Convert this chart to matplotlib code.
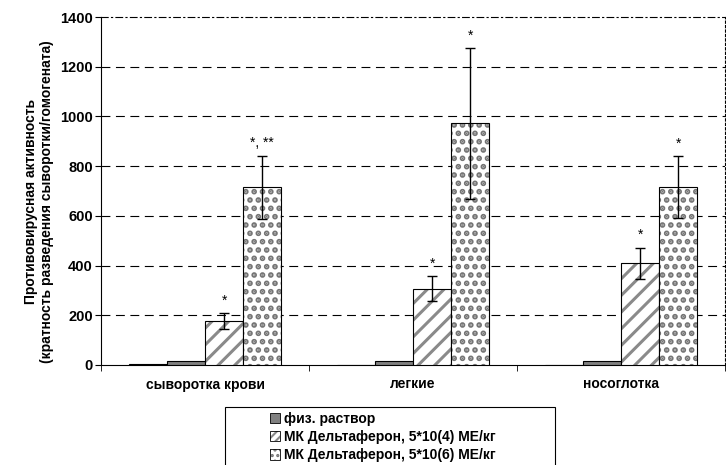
import matplotlib
matplotlib.use("Agg")
import matplotlib.pyplot as plt
from matplotlib.patches import Patch, Rectangle
from matplotlib.legend_handler import HandlerBase
import numpy as np

plt.rcParams['font.family'] = ['Liberation Sans', 'DejaVu Sans']

categories = ["сыворотка крови", "легкие", "носоглотка"]
control = [3, 0, 0]
saline = [15, 15, 15]
dose4 = [178, 307, 409]
dose4_err = [32, 50, 63]
dose6 = [715, 972, 715]
dose6_err = [126, 304, 124]
dose4_marks = ["*", "*", "*"]
dose6_marks = ["*, **", "*", "*"]
legend_labels = ["физ. раствор", "МК Дельтаферон, 5*10(4) МЕ/кг", "МК Дельтаферон, 5*10(6) МЕ/кг"]

HATCH_GRAY = '#8a8a8a'
DOT_GRAY = '#757575'
FS = 10
STRIPE_LW = 2.2
DOT_LW = 2.8

fig = plt.figure(figsize=(7.26, 4.65), dpi=100)
ax = fig.add_axes([101 / 726, 1 - 365 / 465, 624 / 726, 348 / 465])

x = np.arange(len(categories))
w = 0.183

ax.bar(x - 1.5 * w, control, w, color='white', edgecolor='black', linewidth=0.8, zorder=3)
ax.bar(x - 0.5 * w, saline, w, color='#808080', edgecolor='black', linewidth=0.8, zorder=3)

# hatched fill in gray, then black outline on top
with plt.rc_context({'hatch.linewidth': STRIPE_LW}):
    ax.bar(x + 0.5 * w, dose4, w, color='white', edgecolor=HATCH_GRAY, linewidth=0,
           hatch='//', zorder=3)
ax.bar(x + 0.5 * w, dose4, w, fill=False, edgecolor='black', linewidth=0.8, zorder=3)
with plt.rc_context({'hatch.linewidth': DOT_LW}):
    ax.bar(x + 1.5 * w, dose6, w, color='white', edgecolor=DOT_GRAY, linewidth=0,
           hatch='..', zorder=3)
ax.bar(x + 1.5 * w, dose6, w, fill=False, edgecolor='black', linewidth=0.8, zorder=3)

ax.errorbar(x + 0.5 * w, dose4, yerr=dose4_err, fmt='none', ecolor='black',
            elinewidth=1, capsize=3.5, capthick=1, zorder=4)
ax.errorbar(x + 1.5 * w, dose6, yerr=dose6_err, fmt='none', ecolor='black',
            elinewidth=1, capsize=3.5, capthick=1, zorder=4)

for i in range(len(categories)):
    ax.text(x[i] + 0.5 * w, dose4[i] + dose4_err[i] + 22, dose4_marks[i],
            ha='center', va='bottom', fontsize=FS)
    ax.text(x[i] + 1.5 * w, dose6[i] + dose6_err[i] + 22, dose6_marks[i],
            ha='center', va='bottom', fontsize=FS)

ax.set_xlim(-0.5, 2.5)
ax.set_ylim(0, 1400)
ax.set_yticks(range(0, 1401, 200))
ax.set_xticks(x)
ax.set_xticklabels(categories, fontweight='bold', fontsize=FS)
ax.set_xticks([-0.5, 0.5, 1.5, 2.5], minor=True)
ax.tick_params(axis='x', which='major', length=0, pad=9)
ax.tick_params(axis='x', which='minor', length=4, direction='out')
ax.tick_params(axis='y', length=4, direction='out', labelsize=10.5, pad=2)
for lbl in ax.get_yticklabels():
    lbl.set_fontweight('bold')

for yv in range(200, 1400, 200):
    ax.axhline(yv, color='black', linestyle=(0, (8, 5)), linewidth=0.8, zorder=1)

ax.spines['top'].set_linestyle((0, (6, 3, 1, 3)))
ax.spines['top'].set_linewidth(0.8)
ax.spines['right'].set_linestyle((0, (2, 2)))
ax.spines['right'].set_linewidth(0.8)
ax.spines['left'].set_linewidth(0.8)
ax.spines['bottom'].set_linewidth(0.8)

ax.set_ylabel("Противовирусная активность\n(кратность разведения сыворотки/гомогената)",
              fontweight='bold', fontsize=FS, linespacing=1.1)
ax.yaxis.set_label_coords(-0.076, 0.47)

fig.patches.append(Rectangle((225 / 726, -0.05), 330 / 726, 1.05 - 407 / 465,
                             transform=fig.transFigure, fill=False,
                             edgecolor='black', linewidth=0.8))


class HatchHandler(HandlerBase):
    def __init__(self, hatch, lw, color):
        super().__init__()
        self.hatch = hatch
        self.lw = lw
        self.color = color

    def create_artists(self, legend, orig_handle, xdescent, ydescent, width, height, fontsize, trans):
        with plt.rc_context({'hatch.linewidth': self.lw}):
            r1 = Rectangle((-xdescent, -ydescent), width, height, facecolor='white',
                           edgecolor=self.color, linewidth=0, hatch=self.hatch, transform=trans)
        r2 = Rectangle((-xdescent, -ydescent), width, height, fill=False,
                       edgecolor='black', linewidth=0.6, transform=trans)
        return [r1, r2]


h1 = Patch(facecolor='#808080', edgecolor='black', linewidth=0.6)
h2 = Patch(facecolor='white')
h3 = Patch(facecolor='white', edgecolor='gray')
fig.legend([h1, h2, h3], legend_labels, loc='upper left',
           bbox_to_anchor=(270 / 726, 1 - 412 / 465), frameon=False,
           prop={'weight': 'bold', 'size': FS}, handlelength=0.75,
           handleheight=0.75, handletextpad=0.25, labelspacing=0.3,
           borderpad=0, borderaxespad=0,
           handler_map={h2: HatchHandler('////', 1.5, HATCH_GRAY),
                        h3: HatchHandler('...', 1.5, DOT_GRAY)})

fig.savefig("out.png", dpi=100)
